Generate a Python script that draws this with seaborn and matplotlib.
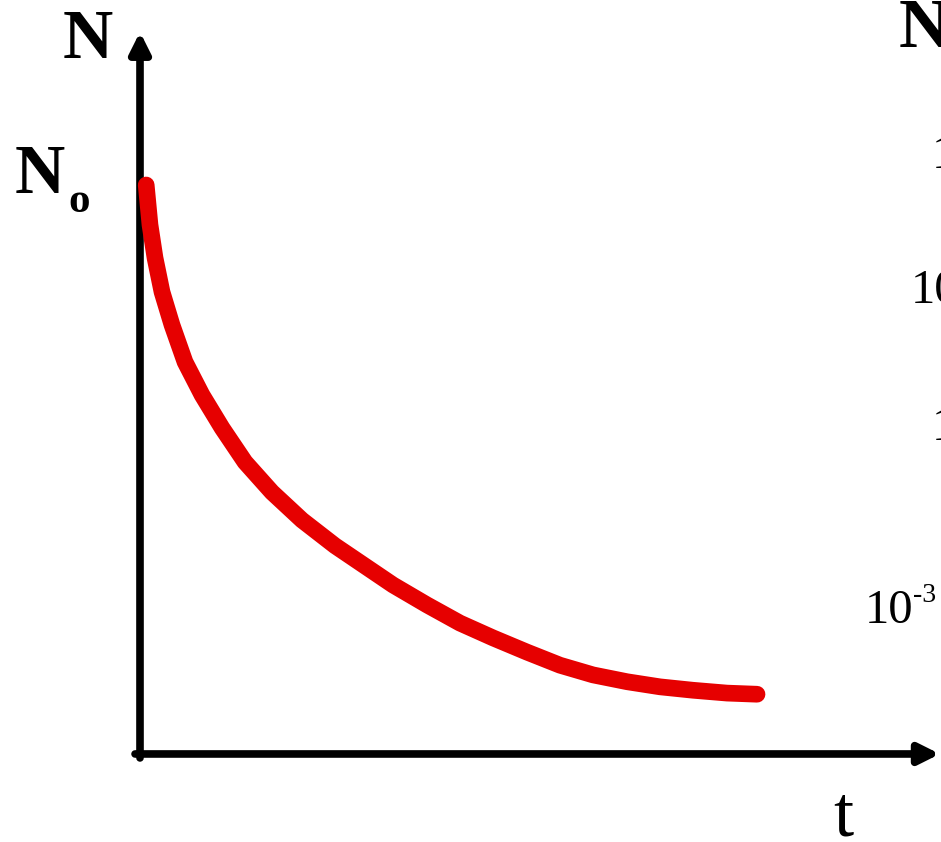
import numpy as np
import pandas as pd
import matplotlib.pyplot as plt
import seaborn as sns

# decay curve (t in arbitrary units, N relative to N0)
t_vals = [0.10, 0.161, 0.242, 0.355, 0.516, 0.726, 1.000, 1.323, 1.694, 2.129,
          2.613, 3.145, 4.081, 4.629, 5.161, 5.694, 6.242, 6.774, 7.306,
          7.855, 8.387, 8.919, 9.468, 9.952]
n_vals = [1.000, 0.930, 0.872, 0.812, 0.754, 0.689, 0.631, 0.573, 0.513, 0.460,
          0.411, 0.366, 0.297, 0.262, 0.230, 0.204, 0.179, 0.156, 0.139,
          0.127, 0.118, 0.112, 0.107, 0.105]

# labels of the left chart and the cut-off one on the right edge
left_labels = ["N", "N", "o", "t"]
right_labels = ["N", "1", "10", "1", "10", "-3"]

df = pd.DataFrame({"t": t_vals, "N": n_vals})

sns.set_style("white")
plt.rcParams["font.family"] = ["Liberation Serif", "DejaVu Serif"]
plt.rcParams["text.color"] = "black"

W, H = 941, 842
fig = plt.figure(figsize=(W / 100, H / 100), dpi=100)
ax = fig.add_axes([0, 0, 1, 1])
ax.set_xlim(-2.258, 12.919)
ax.set_ylim(-0.1547, 1.3251)
ax.set_axis_off()


def px(x, y):
    # pixel position -> figure fraction
    return x / W, 1 - y / H


# axes with arrow heads
arrow = dict(arrowstyle="-|>", color="black", lw=5.5, mutation_scale=30,
             shrinkA=0, shrinkB=0)
ax.annotate("", xy=(0, 1.269), xytext=(0, -0.007), arrowprops=arrow)
ax.annotate("", xy=(12.90, 0), xytext=(-0.08, 0), arrowprops=arrow)

sns.lineplot(data=df, x="t", y="N", ax=ax, color="#e60000", linewidth=12,
             solid_capstyle="round", solid_joinstyle="round", sort=False, zorder=5)

# left chart labels
fig.text(*px(63, 58), left_labels[0], fontsize=50, fontweight="bold")
fig.text(*px(15, 193), left_labels[1], fontsize=50, fontweight="bold")
fig.text(*px(68, 212), left_labels[2], fontsize=31, fontweight="bold")
fig.text(*px(833, 835), left_labels[3], fontsize=52)

# pieces of the neighbouring chart, cut by the right edge
fig.text(*px(899, 47), right_labels[0], fontsize=50, fontweight="bold")
fig.text(*px(932, 168), right_labels[1], fontsize=35)
fig.text(*px(911, 303), right_labels[2], fontsize=35)
fig.text(*px(932, 440), right_labels[3], fontsize=35)
fig.text(*px(865, 623), right_labels[4], fontsize=35)
fig.text(*px(913, 602), right_labels[5], fontsize=20)

fig.savefig("out.png", dpi=100, facecolor="white")
